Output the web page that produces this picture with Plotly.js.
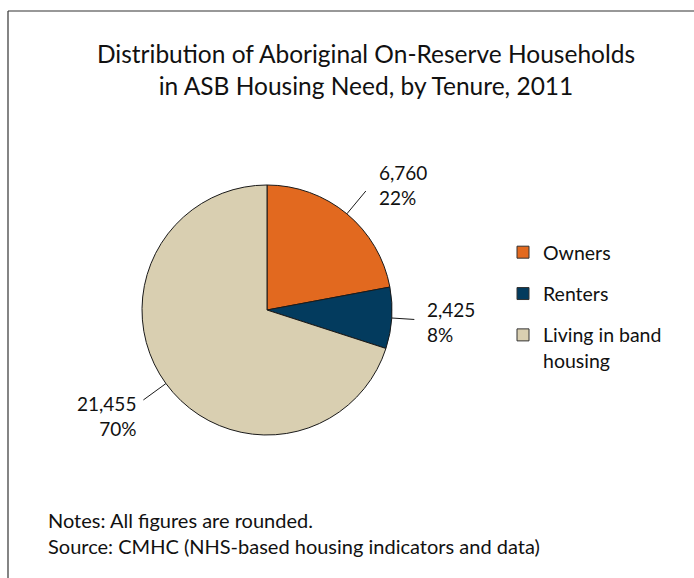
<!DOCTYPE html>
<html>
<head>
<meta charset="utf-8">
<script src="https://cdn.plot.ly/plotly-3.0.1.min.js"></script>
<style>
  html, body { margin: 0; padding: 0; background: #fff; }
  #chart { width: 694px; height: 578px; }
</style>
</head>
<body>
<div id="chart"></div>
<script>
// ---- data ----
var categories = ["Owners", "Renters", "Living in band housing"];
var legendLabels = ["Owners", "Renters", "Living in band<br>housing"];
var households = [6760, 2425, 21455];
var colors = ["#E2691F", "#033B5E", "#D9CFB1"];
var titleText = "Distribution of Aboriginal On-Reserve Households<br>in ASB Housing Need, by Tenure, 2011";
var notesText = "Notes: All figures are rounded.<br>Source: CMHC (NHS-based housing indicators and data)";

// ---- layout geometry (pixels) ----
var W = 694, H = 578;
var cx = 267, cy = 310, R = 125;
var FONT = "Lato, 'Open Sans', sans-serif";
function px2x(p) { return p / W; }
function px2y(p) { return 1 - p / H; }

var total = households.reduce(function (a, b) { return a + b; }, 0);

var pie = {
  type: "pie",
  labels: categories,
  values: households,
  sort: false,
  direction: "clockwise",
  rotation: 0,
  textinfo: "none",
  hoverinfo: "label+value+percent",
  showlegend: false,
  marker: { colors: colors, line: { color: "#1a1a1a", width: 1 } },
  domain: { x: [px2x(cx - R), px2x(cx + R)], y: [px2y(cy + R), px2y(cy - R)] }
};

// legend entries (keys for the pie slices)
var legendTraces = categories.map(function (c, i) {
  return {
    type: "scatter", mode: "markers", x: [null], y: [null],
    name: legendLabels[i], legendgroup: "g" + i, showlegend: true,
    marker: { symbol: "square", size: 12, color: colors[i], line: { color: "#333", width: 1 } },
    hoverinfo: "skip"
  };
});

// frame + data labels with leader lines
var shapes = [
  { type: "line", xref: "paper", yref: "paper", x0: px2x(8), y0: px2y(11), x1: 1, y1: px2y(11), line: { color: "#333", width: 1.2 } },
  { type: "line", xref: "paper", yref: "paper", x0: px2x(8), y0: px2y(11), x1: px2x(8), y1: 0, line: { color: "#333", width: 1.2 } }
];
var annotations = [];
var cum = 0;
households.forEach(function (v, i) {
  var mid = (cum + v / 2) / total * 2 * Math.PI;
  cum += v;
  var s = Math.sin(mid), c = Math.cos(mid);
  var L = 22 + 10 * Math.abs(c);
  var x0 = cx + R * s, y0 = cy - R * c;
  var x1 = cx + (R + L) * s, y1 = cy - (R + L) * c;
  shapes.push({ type: "line", xref: "paper", yref: "paper",
    x0: px2x(x0), y0: px2y(y0), x1: px2x(x1), y1: px2y(y1),
    line: { color: "#1a1a1a", width: 1 } });
  var right = s >= 0;
  var yanchor = c < -0.3 ? "top" : "middle";
  var ty = c > 0.3 ? y1 - 6 : (c < -0.3 ? y1 - 10 : y1 + 3);
  annotations.push({
    xref: "paper", yref: "paper",
    x: px2x(right ? x1 + 11 : x1 - 5), y: px2y(ty),
    xanchor: right ? "left" : "right", yanchor: yanchor,
    align: right ? "left" : "right",
    showarrow: false,
    text: v.toLocaleString("en-US") + "<br>" + Math.round(v / total * 100) + "%",
    font: { family: FONT, size: 19, color: "#111" }
  });
});

annotations.push({
  xref: "paper", yref: "paper", x: px2x(46), y: px2y(506),
  xanchor: "left", yanchor: "top", align: "left", showarrow: false,
  text: notesText,
  font: { family: FONT, size: 20, color: "#111" }
});

var layout = {
  width: W, height: H,
  margin: { l: 0, r: 0, t: 0, b: 0 },
  paper_bgcolor: "#fff", plot_bgcolor: "rgba(0,0,0,0)",
  font: { family: FONT, color: "#111" },
  title: {
    text: titleText,
    font: { family: FONT, size: 24.5, color: "#111" },
    x: px2x(366), xanchor: "center",
    y: px2y(63), yanchor: "top", yref: "container"
  },
  xaxis: { visible: false }, yaxis: { visible: false },
  showlegend: true,
  legend: {
    x: px2x(503), xanchor: "left", y: px2y(233), yanchor: "top",
    traceorder: "grouped", tracegroupgap: 13, valign: "top",
    font: { family: FONT, size: 19.5, color: "#111" },
    bgcolor: "rgba(0,0,0,0)", borderwidth: 0
  },
  shapes: shapes,
  annotations: annotations
};

Plotly.newPlot("chart", [pie].concat(legendTraces), layout, { displayModeBar: false, staticPlot: true });
</script>
</body>
</html>
